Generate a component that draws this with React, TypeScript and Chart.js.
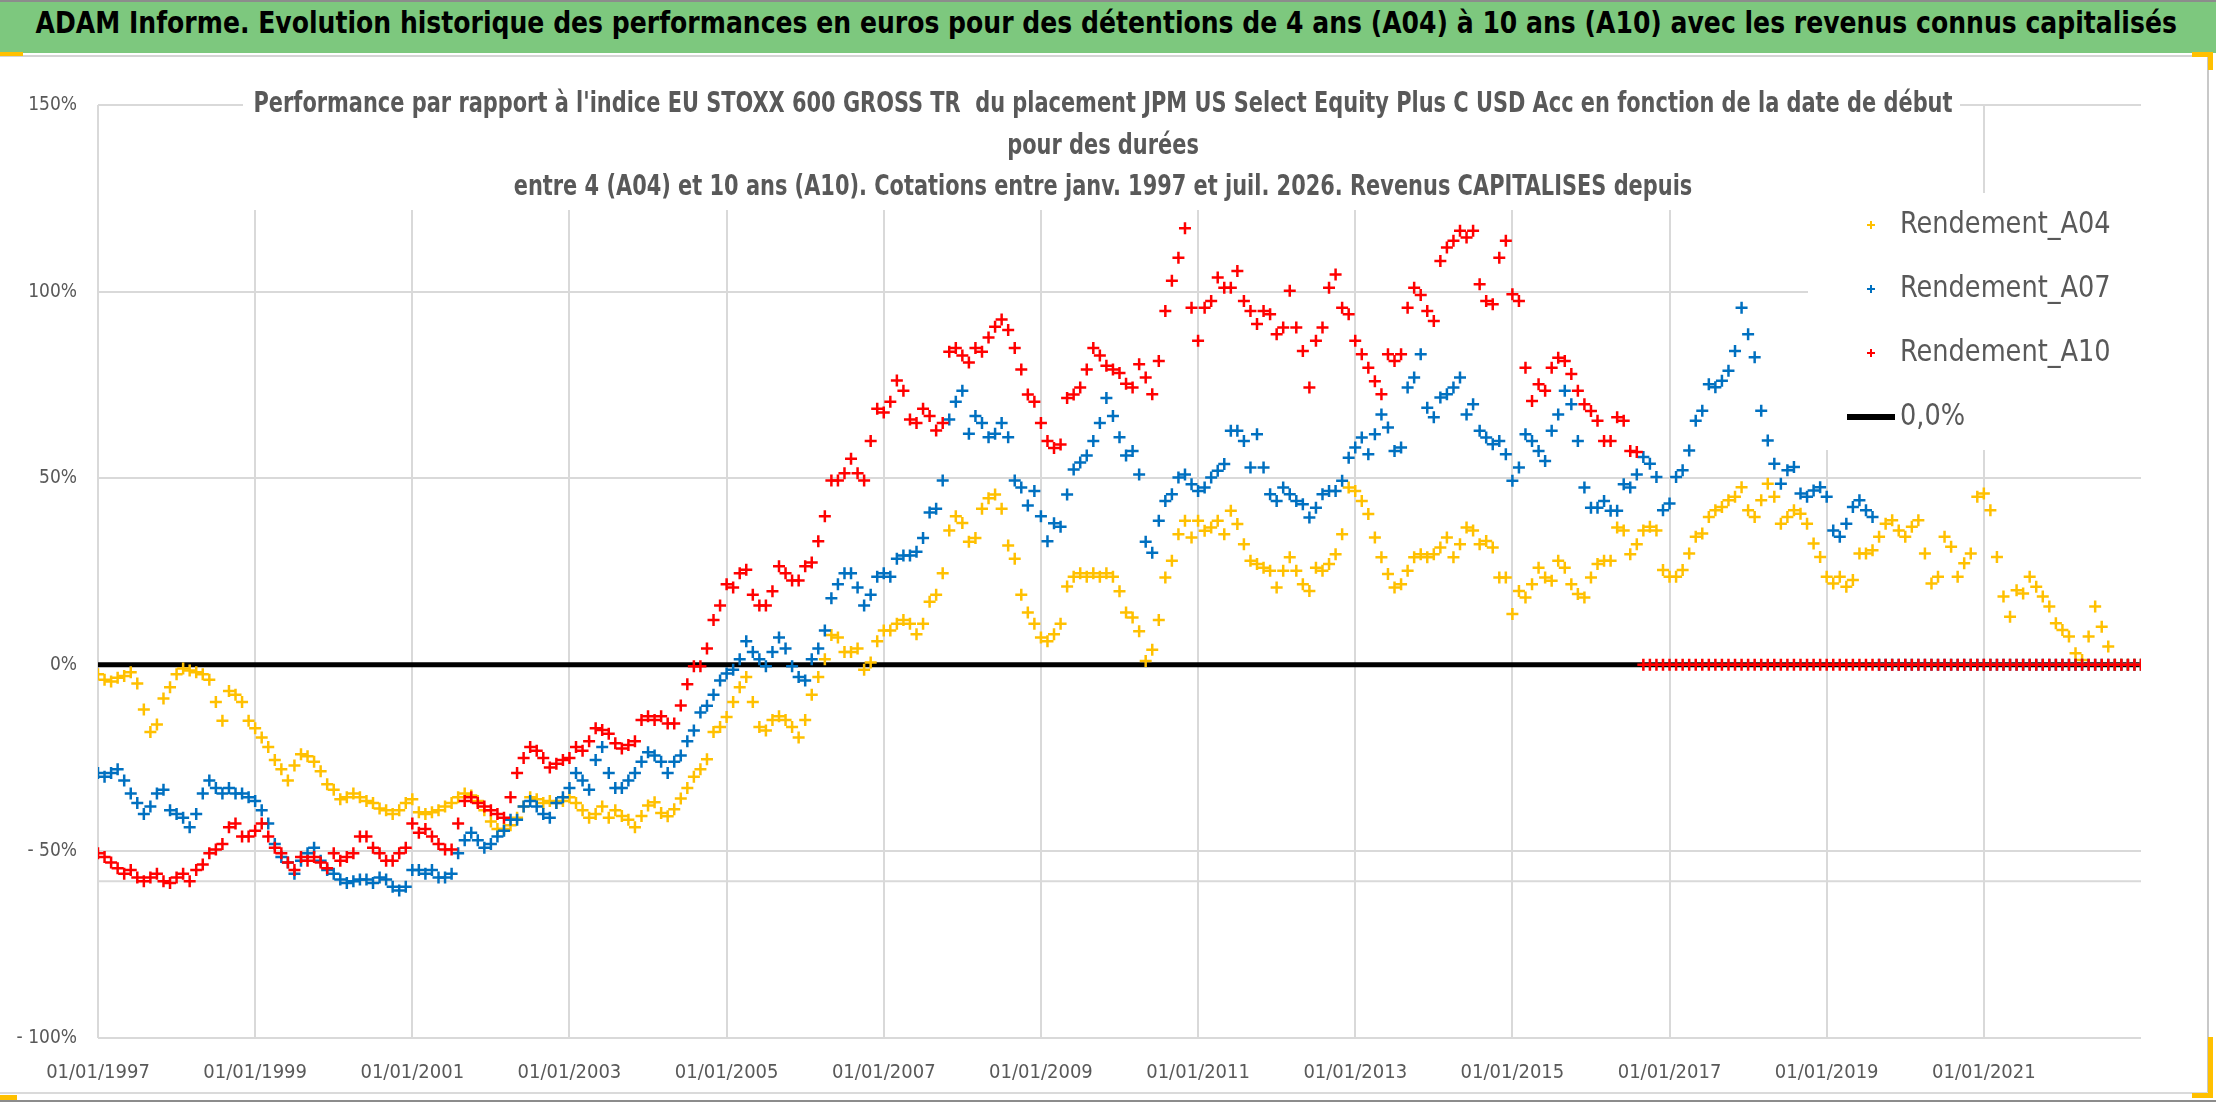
import { useEffect, useRef } from "react";
import Chart from "chart.js/auto";

const FONT = '"Liberation Sans Narrow", "Arial Narrow", "DejaVu Sans Condensed", sans-serif';

// monthly start dates from Jan 1997 (index / 12 added to the start year)
const START_YEAR = 1997;
const TICK_YEARS = [1997, 1999, 2001, 2003, 2005, 2007, 2009, 2011, 2013, 2015, 2017, 2019, 2021];
const X_MAX = 2023;
const Y_TICKS = { min: -100, max: 150, step: 50 };
const REF_LINE = -58;

const HEADER = "ADAM Informe. Evolution historique des performances en euros pour des détentions de 4 ans (A04) à 10 ans (A10) avec les revenus connus capitalisés";
const TITLE_LINES = [
  "Performance par rapport à l'indice EU STOXX 600 GROSS TR  du placement JPM US Select Equity Plus C USD Acc en fonction de la date de début",
  "pour des durées",
  "entre 4 (A04) et 10 ans (A10). Cotations entre janv. 1997 et juil. 2026. Revenus CAPITALISES depuis",
];

const SERIES_NAMES = ["Rendement_A04", "Rendement_A07", "Rendement_A10"];
const SERIES_COLORS = ["#FFC000", "#0070C0", "#FF0000"];
const ZERO_NAME = "0,0%";
const ZERO_LINE = [0, 0];

const rendementA04 = [
  -2.5, -4, -4.5, -3.5, -3, -2, -5, -12, -18, -16,
  -9, -6, -2.5, -1, -1.5, -2, -2.5, -4, -10, -15,
  -7, -8, -10, -15, -17, -19.5, -22, -25.5, -28, -31,
  -27, -24, -24.5, -26, -28.5, -32, -33.5, -36, -35.5, -34.5,
  -35.5, -36.5, -37, -38.5, -39, -40, -39, -37, -36, -39.5,
  -40, -39.5, -39, -38, -37, -35.5, -34.5, -35, -36.5, -39,
  -42, -44, -44, -43, -41, -38, -35.5, -36, -37, -36.5,
  -37, -36.5, -35.5, -37, -39, -41, -40, -38, -41, -39,
  -40.5, -41.5, -43.5, -40.5, -37.7, -36.8, -39.7, -40.6, -38.7, -35.8,
  -33, -30, -28, -25.3, -18, -16.7, -14, -10, -6, -3.3,
  -10, -16.7, -17.6, -14.8, -13.8, -14.8, -16.7, -19.5, -14.8, -8,
  -3.3, 1.5, 8, 7.3, 3.4, 3.4, 4.4, -1.3, 0.6, 6.3,
  9.2, 9.2, 11, 12, 11, 8.2, 11, 16.9, 18.8, 24.5,
  36, 39.8, 38, 33, 34, 41.8, 44.6, 45.6, 41.8, 32,
  28.4, 18.8, 14, 11, 7.3, 6.3, 8.2, 11, 21, 23.6,
  24.5, 23.6, 24.5, 23.6, 24.5, 23.6, 19.7, 14,
  12.7, 9, 1, 4, 12, 23.4, 27.9, 35, 38.6, 34.1,
  38.6, 35.9, 36.8, 38.6, 35, 41.3, 37.7, 32.3, 27.9, 27,
  26, 25.2, 20.7, 25.2, 28.8, 25.2, 21.6, 19.8, 26, 25.2,
  27, 29.6, 35, 47.5, 46.6, 43.9, 40.4, 34.1, 28.8, 24.3,
  20.7, 21.6, 25.2, 28.8, 29.6, 28.8, 29.6, 31.4, 34.1, 28.8,
  32.3, 36.8, 36, 32.3, 33.2, 31.4, 23.4, 23.4, 13.6, 19.8,
  18, 21.6, 26, 23.4, 22.5, 27.9, 26, 21.6, 19, 18,
  23.4, 27, 27.9, 27.9, 36.8, 36, 29.6, 32.3,
  36, 37, 36, 25.4, 23.6, 23.6, 25.4, 29.8, 34.3, 35.2,
  39.6, 41.4, 42.3, 44.1, 45, 47.6, 41.4, 39.6, 44.1, 48.5,
  45, 37.8, 39.6, 41.4, 40.5, 37.8, 32.5, 28.9, 23.6, 21.8,
  23.6, 20.9, 22.7, 29.8, 29.8, 30.7, 34.3, 37.8, 38.7, 36,
  34.3, 37, 38.7, 29.8, 21.8, 23.6, 34.3, 31.6, 23.6, 27.2,
  29.8, 45, 45.9, 41.4, 28.9, 18.3, 12.9, 20, 19.1, 23.6,
  20.9, 18.3, 15.6, 11.1, 9.3, 7.6, 3.1, 1.3, 7.6, 15.6,
  10.2, 4.9, 0, 0, 0, 0, 0,
];

const rendementA07 = [
  -29, -30, -29, -28, -31, -34.5, -37, -40, -38, -34.5,
  -33.5, -39, -40, -41, -43.5, -40, -34.5, -31, -33, -34.5,
  -33, -34.5, -34.5, -35.5, -36.5, -39, -42.5, -48, -51.5, -53,
  -56, -52.5, -50.5, -49, -52.5, -55, -56, -57.5, -58.5, -58,
  -57.5, -57.5, -58.5, -57, -57.5, -59.5, -60.5, -59.5, -55, -55,
  -56, -55, -57, -57, -56, -50.5, -47, -45, -47, -49,
  -48, -46, -44.5, -41.5, -41.5, -38, -36.5, -38, -40, -41,
  -37, -35.5, -33, -29, -31, -33.5, -25.5, -22, -29, -33,
  -33, -31, -29, -26, -23.4, -24.3, -26, -29, -26, -24.3,
  -20.5, -17.6, -12.8, -11, -8, -4.2, -2.3, -1.3, 1.5, 6.3,
  3.4, 1.5, -0.4, 3.4, 7.3, 4.4, -0.4, -3.3, -4.2, 1.5,
  4.4, 9.2, 17.8, 21.6, 24.5, 24.5, 20.7, 15.9, 18.8, 23.6,
  24.5, 23.6, 28.4, 29.3, 29.3, 30.3, 34, 40.8, 41.8, 49.4,
  65.7, 70.5, 73.4, 61.9, 66.7, 64.8, 61, 61.9, 64.8, 61,
  49.4, 47.5, 42.7, 46.6, 39.8, 33.1, 37.9, 37, 45.6, 52.3,
  54.2, 56.1, 60, 64.8, 71.5, 66.7, 61, 56.1,
  57.3, 51, 33, 30, 38.6, 43.9, 45.7, 50.2, 51, 48.4,
  46.6, 47.5, 50.2, 52, 53.8, 62.7, 62.7, 60, 52.9, 61.8,
  52.9, 45.7, 43.9, 47.5, 45.7, 43.9, 43, 39.5, 42.1, 45.7,
  46.6, 46.6, 49.3, 55.5, 58.2, 60.9, 56.4, 61.8, 67.1, 63.6,
  57.3, 58.2, 74.3, 77, 83.2, 68.9, 66.3, 71.6, 72.5, 74.3,
  77, 67.1, 69.8, 62.7, 60.9, 59.1, 60, 56.4, 49.3, 52.9,
  61.8, 60, 57.3, 54.6, 62.7, 67.1, 73.4, 69.8, 60, 47.5,
  42.1, 42.1, 43.9, 41.3, 41.3, 48.4, 47.5, 51,
  55.7, 53.9, 50.3, 41.4, 43.2, 50.3, 52.1, 57.4, 65.4, 68.1,
  75.2, 74.4, 76.1, 78.8, 84.1, 95.7, 88.6, 82.4, 68.1, 60.1,
  53.9, 48.5, 52.1, 53, 45.9, 45, 46.7, 47.6, 45, 36,
  34.3, 37.8, 42.3, 44.1, 41.4, 39.6,
  0, 0, 0, 0, 0, 0, 0, 0, 0, 0,
  0, 0, 0, 0, 0, 0, 0, 0, 0, 0,
  0, 0, 0, 0, 0, 0, 0, 0, 0, 0,
  0, 0, 0, 0, 0, 0, 0, 0, 0, 0,
  0,
];

const rendementA10 = [
  -50.5, -51.5, -53, -54.5, -56, -55, -57, -58, -57, -56,
  -58, -58.5, -57, -56, -58, -55, -53.5, -50.5, -49.5, -48,
  -43.5, -42.5, -46, -46, -44.5, -42.5, -46, -49, -50.5, -53,
  -55, -51.5, -52.5, -51.5, -53, -54.5, -50.5, -52.5, -51.5, -50.5,
  -46, -46, -49, -50.5, -52.5, -52.5, -50.5, -49, -42.5, -45,
  -44, -46, -48, -49.5, -49.5, -42.5, -36.5, -35.5, -37, -38,
  -39, -40, -41, -35.5, -29, -25, -22, -23, -25, -27.5,
  -26.5, -25.5, -25, -22, -23, -20.5, -17, -17.5, -18.5, -21,
  -22.4, -21.5, -20.5, -14.8, -13.8, -14.8, -13.8, -15.7, -15.7, -10.9,
  -5.2, -0.4, -0.4, 4.4, 12, 15.9, 21.6, 20.7, 24.5, 25.5,
  18.8, 15.9, 15.9, 19.7, 26.4, 24.5, 22.6, 22.6, 26.4, 27.4,
  33.1, 39.8, 49.4, 49.4, 51.3, 55.2, 51.3, 49.4, 60, 68.6,
  67.6, 70.5, 76.2, 73.4, 65.7, 64.8, 68.6, 66.7, 62.8, 64.8,
  83.9, 84.9, 82.9, 81, 84.9, 83.9, 87.7, 90.6, 92.5, 89.7,
  84.9, 79.1, 72.4, 70.5, 64.8, 60, 58.1, 59, 71.5, 72.4,
  74.3, 79.1, 84.9, 82.9, 80.1, 79.1, 78.2, 75.3,
  74.3, 80.5, 77, 72.5, 81.4, 94.8, 102.9, 109.1, 117, 95.7,
  86.8, 95.7, 97.5, 103.8, 101, 101, 105.5, 97.5, 94.8, 91.3,
  94.8, 93.9, 88.6, 90.4, 100.2, 90.4, 84.1, 74.3, 86.8, 90.4,
  101, 104.6, 95.7, 93.9, 86.8, 83.2, 79.6, 76, 72.5, 83.2,
  81.4, 83.2, 95.7, 101, 99.1, 94.8, 92.1, 108.2, 111.8, 113.6,
  116.3, 114.5, 116.3, 102, 97.5, 96.6, 109.1, 113.6, 99.3, 97.5,
  79.6, 70.7, 75.2, 73.4, 79.6, 82.3, 81.4, 77.9, 73.4, 69.8,
  68, 65.4, 60, 60, 66.3, 65.4, 57.3, 57,
  0, 0, 0, 0, 0, 0, 0, 0, 0, 0,
  0, 0, 0, 0, 0, 0, 0, 0, 0, 0,
  0, 0, 0, 0, 0, 0, 0, 0, 0, 0,
  0, 0, 0, 0, 0, 0, 0, 0, 0, 0,
  0, 0, 0, 0, 0, 0, 0, 0, 0, 0,
  0, 0, 0, 0, 0, 0, 0, 0, 0, 0,
  0, 0, 0, 0, 0, 0, 0, 0, 0, 0,
  0, 0, 0, 0, 0, 0, 0,
];

const SERIES = [rendementA04, rendementA07, rendementA10];
const GRID = "#D9D9D9";
const TEXT = "#595959";

const toPoints = (values: number[]) => values.map((v, i) => ({ x: START_YEAR + i / 12, y: v }));

// draw text squeezed horizontally (the reference uses a narrow face)
const narrowText = (ctx: CanvasRenderingContext2D, text: string, x: number, y: number, sx: number) => {
  ctx.save();
  ctx.translate(x, y);
  ctx.scale(sx, 1);
  ctx.fillText(text, 0, 0);
  ctx.restore();
};

const overlay = {
  id: "overlay",
  beforeDatasetsDraw(chart: any) {
    const { ctx, chartArea, scales } = chart;
    ctx.save();
    // extra horizontal rule
    const ry = scales.y.getPixelForValue(REF_LINE);
    ctx.strokeStyle = GRID;
    ctx.lineWidth = 2;
    ctx.beginPath();
    ctx.moveTo(chartArea.left, ry);
    ctx.lineTo(chartArea.right, ry);
    ctx.stroke();

    // title box
    const top = chartArea.top;
    ctx.fillStyle = "#fff";
    ctx.fillRect(243, top - 22, 1717, 127);
    ctx.fillStyle = TEXT;
    ctx.font = `bold 28px ${FONT}`;
    ctx.textAlign = "center";
    ctx.textBaseline = "middle";
    TITLE_LINES.forEach((t, i) => narrowText(ctx, t, 1103, top + i * 41.5, 0.83));

    // legend box
    const lx = chartArea.right - 333;
    ctx.fillStyle = "#fff";
    ctx.fillRect(lx, top + 88, 333, 257);
    ctx.font = `30px ${FONT}`;
    ctx.textAlign = "left";
    const rows = [...SERIES_NAMES, ZERO_NAME];
    rows.forEach((name, i) => {
      const cy = top + 120 + i * 64;
      if (i < 3) {
        ctx.strokeStyle = SERIES_COLORS[i];
        ctx.lineWidth = 2;
        ctx.beginPath();
        ctx.moveTo(lx + 59, cy);
        ctx.lineTo(lx + 67, cy);
        ctx.moveTo(lx + 63, cy - 4);
        ctx.lineTo(lx + 63, cy + 4);
        ctx.stroke();
      } else {
        ctx.strokeStyle = "#000";
        ctx.lineWidth = 6;
        ctx.beginPath();
        ctx.moveTo(lx + 39, cy);
        ctx.lineTo(lx + 87, cy);
        ctx.stroke();
      }
      ctx.fillStyle = TEXT;
      narrowText(ctx, name, lx + 92, cy, 0.95);
    });
    ctx.restore();
  },
};

const PerfChart = () => {
  const canvasRef = useRef<HTMLCanvasElement | null>(null);

  useEffect(() => {
    if (!canvasRef.current) return;
    Chart.defaults.font.family = FONT;
    const chart = new Chart(canvasRef.current, {
      type: "scatter",
      data: {
        datasets: [
          ...SERIES.map((values, i) => ({
            label: SERIES_NAMES[i],
            data: toPoints(values),
            showLine: false,
            pointStyle: "cross",
            pointRadius: 6,
            pointBorderWidth: 2.5,
            borderColor: SERIES_COLORS[i],
            backgroundColor: SERIES_COLORS[i],
            order: 3 - i,
          })),
          {
            type: "line" as const,
            label: ZERO_NAME,
            data: [
              { x: START_YEAR, y: ZERO_LINE[0] },
              { x: X_MAX, y: ZERO_LINE[1] },
            ],
            borderColor: "#000",
            borderWidth: 5,
            pointRadius: 0,
            order: 4,
          },
        ],
      } as any,
      options: {
        animation: false,
        responsive: true,
        maintainAspectRatio: false,
        devicePixelRatio: 1,
        layout: { padding: { top: 47, right: 67, bottom: 0, left: 0 } },
        plugins: { legend: { display: false }, tooltip: { enabled: false } },
        scales: {
          x: {
            type: "linear",
            min: START_YEAR,
            max: X_MAX,
            afterBuildTicks: (axis: any) => {
              axis.ticks = TICK_YEARS.map((v) => ({ value: v }));
            },
            afterFit: (axis: any) => {
              axis.height = 64;
            },
            ticks: {
              callback: (v: any) => `01/01/${v}`,
              color: TEXT,
              font: { size: 20 },
              padding: 23,
              maxRotation: 0,
              autoSkip: false,
            },
            grid: { color: GRID, lineWidth: 2, drawTicks: false },
            border: { display: false },
          },
          y: {
            min: Y_TICKS.min,
            max: Y_TICKS.max,
            afterFit: (axis: any) => {
              axis.width = 98;
            },
            ticks: {
              stepSize: Y_TICKS.step,
              callback: (v: any) => (v < 0 ? `- ${-v}%` : `${v}%`),
              color: TEXT,
              font: { size: 19 },
              padding: 21,
            },
            grid: { color: GRID, lineWidth: 2, drawTicks: false },
            border: { display: false },
          },
        },
      },
      plugins: [overlay],
    });
    return () => chart.destroy();
  }, []);

  return <canvas ref={canvasRef} />;
};

export default function App() {
  useEffect(() => {
    document.body.style.margin = "0";
  }, []);

  const bar = (left: number, top: number, width: number, height: number, background: string) => (
    <div style={{ position: "absolute", left, top, width, height, background }} />
  );

  return (
    <div style={{ position: "relative", width: 2216, height: 1102, background: "#fff", overflow: "hidden" }}>
      <div
        style={{
          position: "absolute",
          left: 0,
          top: 0,
          width: 2216,
          height: 51,
          borderTop: "2px solid #8c8c8c",
          background: "#7DC87E",
          color: "#000",
          lineHeight: "51px",
          textAlign: "center",
          whiteSpace: "nowrap",
        }}
      >
        <span
          style={{
            display: "inline-block",
            font: `bold 30px ${FONT}`,
            transform: "translateX(-45px) scaleX(0.93)",
            transformOrigin: "center",
          }}
        >
          {HEADER}
        </span>
      </div>
      {bar(0, 55, 2208, 2, "#D4D4D4")}
      <div style={{ position: "absolute", left: 0, top: 58, width: 2208, height: 1044 }}>
        <PerfChart />
      </div>
      {bar(2207, 57, 2, 1036, "#C8C8C8")}
      {bar(0, 1092, 2208, 2, "#DADADA")}
      {bar(0, 1100, 2216, 2, "#8c8c8c")}
      {bar(0, 52, 23, 4, "#FFC000")}
      {bar(2192, 52, 21, 5, "#FFC000")}
      {bar(2208, 52, 5, 18, "#FFC000")}
      {bar(2208, 1037, 5, 61, "#FFC000")}
      {bar(2192, 1093, 21, 5, "#FFC000")}
      {bar(0, 1095, 17, 5, "#FFC000")}
    </div>
  );
}
